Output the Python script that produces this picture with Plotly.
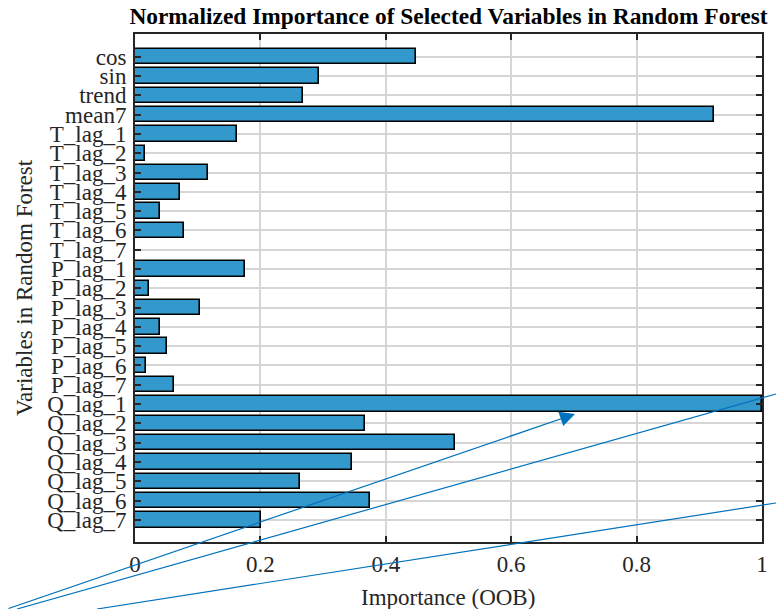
import plotly.graph_objects as go

# ---- data ----
variables = ["cos", "sin", "trend", "mean7",
             "T_lag_1", "T_lag_2", "T_lag_3", "T_lag_4", "T_lag_5", "T_lag_6", "T_lag_7",
             "P_lag_1", "P_lag_2", "P_lag_3", "P_lag_4", "P_lag_5", "P_lag_6", "P_lag_7",
             "Q_lag_1", "Q_lag_2", "Q_lag_3", "Q_lag_4", "Q_lag_5", "Q_lag_6", "Q_lag_7"]
importance = [0.448, 0.293, 0.268, 0.923,
              0.162, 0.016, 0.116, 0.071, 0.040, 0.078, 0.0,
              0.176, 0.022, 0.104, 0.040, 0.051, 0.018, 0.062,
              1.000, 0.367, 0.510, 0.346, 0.263, 0.375, 0.201]
x_ticks = [0, 0.2, 0.4, 0.6, 0.8, 1]

W, H = 776, 609
L, R, T, B = 135, 14, 34, 67
FONT = "Liberation Serif"
AXC = "#262626"

def px(xp, yp):
    """pixel position -> paper coordinates"""
    return (xp - L) / (W - L - R), (H - B - yp) / (H - T - B)

fig = go.Figure()
fig.add_trace(go.Bar(
    x=importance, y=list(range(len(variables))), orientation="h", width=0.8,
    marker=dict(color="#3399CC",
                line=dict(color="black", width=[1.6 if v > 0 else 0 for v in importance])),
    showlegend=False,
))

# decorative annotation lines (in paper space)
lines_px = [((17, 609), (776, 394)), ((97, 609), (776, 503))]
for (x0, y0), (x1, y1) in lines_px:
    a0, b0 = px(x0, y0)
    a1, b1 = px(x1, y1)
    fig.add_shape(type="line", xref="paper", yref="paper", x0=a0, y0=b0, x1=a1, y1=b1,
                  line=dict(color="#0072BD", width=1.2), layer="above")

tipx, tipy = px(575, 414)
fig.add_annotation(xref="paper", yref="paper", x=tipx, y=tipy, text="",
                   showarrow=True, axref="pixel", ayref="pixel", ax=7 - 575, ay=609 - 414,
                   arrowhead=2, arrowsize=2.5, arrowwidth=1.2, arrowcolor="#0072BD")

# axis titles
xt_x, xt_y = px(448, 597)
fig.add_annotation(xref="paper", yref="paper", x=xt_x, y=xt_y, text="Importance (OOB)",
                   showarrow=False, xanchor="center", yanchor="middle",
                   font=dict(family=FONT, size=23, color=AXC))
yt_x, yt_y = px(24, 288)
fig.add_annotation(xref="paper", yref="paper", x=yt_x, y=yt_y, text="Variables in Random Forest",
                   showarrow=False, xanchor="center", yanchor="middle", textangle=-90,
                   font=dict(family=FONT, size=23, color=AXC))

fig.update_layout(
    width=W, height=H,
    margin=dict(l=L, r=R, t=T, b=B, autoexpand=False),
    paper_bgcolor="white", plot_bgcolor="white",
    font=dict(family=FONT, size=23, color=AXC),
    title=dict(text="<b>Normalized Importance of Selected Variables in Random Forest</b>",
               x=(L + (W - R)) / 2 / W, xanchor="center", y=1 - 16 / H, yanchor="middle",
               font=dict(family=FONT, size=23.4, color="black")),
    bargap=0,
)
fig.update_xaxes(
    range=[0, 1], tickvals=x_ticks, ticktext=[f"{v:g}" for v in x_ticks],
    ticks="inside", ticklen=6, tickwidth=1.5, tickcolor=AXC,
    showline=True, linecolor=AXC, linewidth=2, mirror="ticks",
    showgrid=True, gridcolor="#D6D6D6", gridwidth=1.5, zeroline=False,
    tickfont=dict(size=23), automargin=False, ticklabelstandoff=0,
)
fig.update_yaxes(
    range=[len(variables) - 1 + 1.15, -1.18],
    tickvals=list(range(len(variables))), ticktext=variables,
    ticks="inside", ticklen=6, tickwidth=1.5, tickcolor=AXC,
    showline=True, linecolor=AXC, linewidth=2, mirror="ticks",
    showgrid=True, gridcolor="#D6D6D6", gridwidth=1.5, zeroline=False,
    tickfont=dict(size=23), automargin=False, ticklabelstandoff=2,
)

fig.write_html("out.html", config={"displayModeBar": False},
               post_script="document.body.style.margin='0';document.body.style.overflow='hidden';")
